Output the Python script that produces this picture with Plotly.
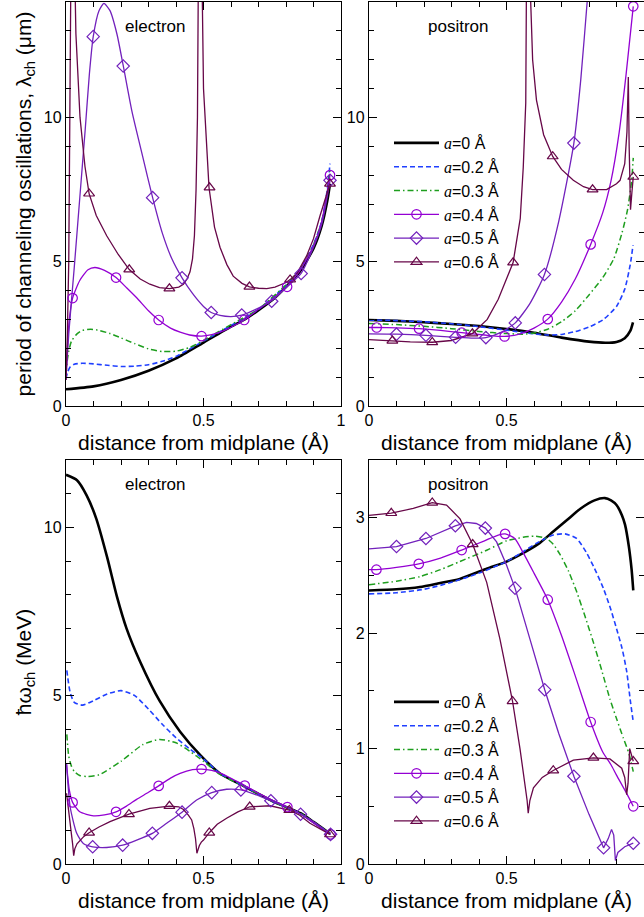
import plotly.graph_objects as go

# ---------------- colours / labels ----------------
series_names = ["a=0 Å", "a=0.2 Å", "a=0.3 Å", "a=0.4 Å", "a=0.5 Å", "a=0.6 Å"]
panel_labels = ["electron", "positron", "electron", "positron"]

# ================= electron, period lambda_ch (um) =================
el_lam_a0_x = [0, 0.1, 0.2, 0.3, 0.4, 0.5, 0.6, 0.65, 0.7, 0.75, 0.8, 0.85, 0.9, 0.93, 0.95, 0.96]
el_lam_a0_y = [0.58, 0.68, 0.9, 1.22, 1.65, 2.2, 2.75, 3.0, 3.32, 3.67, 4.13, 4.65, 5.46, 6.25, 7.1, 7.7]
el_lam_a02_x = [0, 0.005, 0.015, 0.03, 0.06, 0.1, 0.15, 0.2, 0.25, 0.3, 0.35, 0.4, 0.5, 0.6, 0.7, 0.8, 0.85, 0.9, 0.93, 0.95, 0.96]
el_lam_a02_y = [0.95, 1.15, 1.35, 1.45, 1.48, 1.46, 1.41, 1.37, 1.38, 1.43, 1.55, 1.72, 2.25, 2.79, 3.35, 4.18, 4.72, 5.6, 6.4, 7.5, 8.4]
el_lam_a03_x = [0, 0.005, 0.01, 0.02, 0.04, 0.06, 0.09, 0.12, 0.16, 0.2, 0.25, 0.3, 0.35, 0.4, 0.45, 0.5, 0.55, 0.6, 0.7, 0.8, 0.85, 0.9, 0.93, 0.95, 0.96]
el_lam_a03_y = [1.1, 1.6, 1.9, 2.25, 2.5, 2.62, 2.66, 2.62, 2.51, 2.36, 2.16, 1.98, 1.89, 1.9, 2.03, 2.27, 2.55, 2.82, 3.36, 4.2, 4.72, 5.58, 6.4, 7.4, 8.2]
el_lam_a04_x = [0, 0.005, 0.012, 0.024, 0.05, 0.08, 0.105, 0.14, 0.182, 0.22, 0.257, 0.3, 0.337, 0.38, 0.415, 0.45, 0.493, 0.53, 0.572, 0.61, 0.648, 0.7, 0.75, 0.804, 0.85, 0.9, 0.93, 0.96]
el_lam_a04_y = [0.9, 2.0, 3.0, 3.74, 4.35, 4.72, 4.8, 4.7, 4.45, 4.1, 3.75, 3.3, 2.98, 2.7, 2.56, 2.46, 2.42, 2.47, 2.6, 2.78, 2.98, 3.35, 3.7, 4.15, 4.68, 5.55, 6.4, 8.0]
el_lam_a04_mx = [0.024, 0.182, 0.337, 0.493, 0.648, 0.804, 0.96]
el_lam_a04_my = [3.74, 4.45, 2.98, 2.42, 2.98, 4.13, 8.0]
el_lam_a05_x = [0, 0.01, 0.03, 0.05, 0.07, 0.085, 0.099, 0.12, 0.138, 0.16, 0.185, 0.208, 0.24, 0.28, 0.315, 0.35, 0.385, 0.422, 0.46, 0.5, 0.528, 0.56, 0.6, 0.639, 0.69, 0.748, 0.8, 0.855, 0.9, 0.93, 0.96]
el_lam_a05_y = [1.0, 2.5, 4.8, 7.2, 9.6, 11.5, 12.8, 13.7, 13.95, 13.7, 12.9, 11.8, 10.2, 8.6, 7.22, 6.0, 5.1, 4.44, 3.9, 3.45, 3.24, 3.14, 3.1, 3.15, 3.35, 3.65, 4.1, 4.6, 5.5, 6.3, 7.8]
el_lam_a05_mx = [0.099, 0.208, 0.315, 0.422, 0.528, 0.639, 0.748, 0.855, 0.96]
el_lam_a05_my = [12.8, 11.78, 7.22, 4.44, 3.24, 3.15, 3.63, 4.59, 7.82]
el_lam_a06_x = [0, 0.005, 0.01, 0.014, 0.017, 0.02, None, 0.026, 0.03, 0.036, 0.051, 0.069, 0.084, 0.11, 0.148, 0.19, 0.23, 0.27, 0.305, 0.34, 0.376, 0.41, 0.427, 0.44, 0.451, 0.46, 0.467, 0.473, 0.478, 0.482, 0.485, None, 0.49, 0.493, 0.5, 0.51, 0.52, 0.54, 0.56, 0.585, 0.608, 0.64, 0.667, 0.7, 0.73, 0.76, 0.778, 0.8, 0.815, 0.84, 0.875, 0.9, 0.924, 0.945, 0.96]
el_lam_a06_y = [0.9, 2.5, 5.0, 9.0, 14.0, 30.0, None, 30.0, 16.0, 12.9, 10.0, 8.3, 7.36, 6.6, 5.9, 5.25, 4.73, 4.4, 4.22, 4.1, 4.07, 4.12, 4.22, 4.4, 4.65, 5.1, 5.9, 7.5, 10.0, 16.0, 30.0, None, 30.0, 16.0, 11.0, 9.1, 7.57, 6.2, 5.5, 4.9, 4.5, 4.25, 4.13, 4.08, 4.07, 4.12, 4.19, 4.28, 4.38, 4.6, 5.2, 5.8, 6.6, 7.2, 7.7]
el_lam_a06_mx = [0.084, 0.23, 0.376, 0.522, 0.667, 0.815, 0.96]
el_lam_a06_my = [7.36, 4.73, 4.07, 7.57, 4.13, 4.38, 7.7]

# ================= positron, period lambda_ch (um) =================
po_lam_a0_x = [0, 0.1, 0.2, 0.3, 0.4, 0.5, 0.6, 0.7, 0.8, 0.86, 0.9, 0.93, 0.95, 0.96]
po_lam_a0_y = [2.98, 2.95, 2.9, 2.84, 2.77, 2.67, 2.54, 2.37, 2.23, 2.19, 2.22, 2.35, 2.6, 2.9]
po_lam_a02_x = [0, 0.1, 0.2, 0.3, 0.4, 0.5, 0.6, 0.65, 0.7, 0.75, 0.8, 0.85, 0.9, 0.93, 0.95, 0.96]
po_lam_a02_y = [2.98, 2.96, 2.92, 2.85, 2.75, 2.63, 2.5, 2.46, 2.48, 2.58, 2.74, 2.98, 3.45, 4.05, 4.9, 5.57]
po_lam_a03_x = [0, 0.1, 0.2, 0.3, 0.4, 0.5, 0.56, 0.6, 0.65, 0.7, 0.75, 0.8, 0.85, 0.89, 0.92, 0.94, 0.955, 0.961]
po_lam_a03_y = [2.86, 2.82, 2.76, 2.68, 2.58, 2.51, 2.49, 2.53, 2.66, 2.92, 3.3, 3.85, 4.45, 5.1, 6.0, 6.8, 7.8, 8.6]
po_lam_a04_x = [0, 0.028, 0.1, 0.182, 0.26, 0.337, 0.42, 0.493, 0.55, 0.6, 0.65, 0.7, 0.75, 0.806, 0.85, 0.88, 0.91, 0.935, 0.961]
po_lam_a04_y = [2.72, 2.72, 2.71, 2.68, 2.62, 2.54, 2.46, 2.41, 2.5, 2.7, 3.01, 3.6, 4.4, 5.6, 6.7, 7.8, 9.5, 11.5, 13.85]
po_lam_a04_mx = [0.028, 0.182, 0.337, 0.493, 0.65, 0.806, 0.961]
po_lam_a04_my = [2.72, 2.68, 2.54, 2.41, 3.01, 5.6, 13.85]
po_lam_a05_x = [0, 0.1, 0.207, 0.315, 0.38, 0.425, 0.48, 0.532, 0.585, 0.638, 0.69, 0.745, 0.77, 0.795, 0.81]
po_lam_a05_y = [2.5, 2.49, 2.45, 2.38, 2.35, 2.37, 2.55, 2.88, 3.55, 4.56, 6.4, 9.11, 11.3, 14.2, 16.0]
po_lam_a05_mx = [0.1, 0.207, 0.315, 0.425, 0.532, 0.638, 0.745]
po_lam_a05_my = [2.49, 2.45, 2.38, 2.37, 2.88, 4.56, 9.11]
po_lam_a06_x = [0, 0.085, 0.15, 0.23, 0.3, 0.376, 0.43, 0.47, 0.524, 0.55, 0.561, 0.57, 0.578, 0.582, None, 0.585, 0.588, 0.595, 0.609, 0.635, 0.668, 0.7, 0.743, 0.78, 0.813, 0.864, 0.9, 0.913, 0.93, 0.938, 0.943, 0.946, 0.951, 0.956, 0.961]
po_lam_a06_y = [2.3, 2.26, 2.22, 2.21, 2.27, 2.51, 3.0, 3.7, 4.97, 6.5, 8.28, 10.5, 14.0, 30.0, None, 30.0, 14.0, 12.0, 10.6, 9.4, 8.65, 8.2, 7.82, 7.6, 7.5, 7.5, 7.7, 7.82, 8.4, 9.5, 11.4, 9.0, 6.8, 7.4, 7.94]
po_lam_a06_mx = [0.085, 0.23, 0.376, 0.524, 0.668, 0.813, 0.961]
po_lam_a06_my = [2.26, 2.21, 2.51, 4.97, 8.65, 7.5, 7.94]

# ================= electron, energy hbar*omega_ch (MeV) =================
el_om_a0_x = [0, 0.04, 0.075, 0.11, 0.15, 0.185, 0.22, 0.27, 0.34, 0.415, 0.49, 0.56, 0.65, 0.75, 0.805, 0.855, 0.9, 0.96]
el_om_a0_y = [11.56, 11.4, 10.95, 10.26, 9.1, 7.95, 7.0, 6.0, 4.85, 3.93, 3.22, 2.69, 2.3, 1.87, 1.68, 1.5, 1.25, 0.9]
el_om_a02_x = [0.003, 0.015, 0.03, 0.06, 0.1, 0.15, 0.2, 0.25, 0.3, 0.35, 0.4, 0.45, 0.5, 0.56, 0.65, 0.75, 0.805, 0.855, 0.9, 0.96]
el_om_a02_y = [5.75, 5.1, 4.8, 4.72, 4.85, 5.05, 5.15, 5.0, 4.6, 4.15, 3.75, 3.42, 3.12, 2.69, 2.3, 1.86, 1.67, 1.49, 1.24, 0.9]
el_om_a03_x = [0.003, 0.01, 0.02, 0.03, 0.05, 0.075, 0.12, 0.2, 0.28, 0.34, 0.4, 0.45, 0.5, 0.56, 0.65, 0.75, 0.805, 0.855, 0.9, 0.96]
el_om_a03_y = [3.85, 3.2, 2.9, 2.75, 2.63, 2.6, 2.65, 3.05, 3.55, 3.7, 3.6, 3.35, 3.05, 2.66, 2.3, 1.86, 1.67, 1.49, 1.24, 0.9]
el_om_a04_x = [0.002, 0.012, 0.024, 0.05, 0.1, 0.14, 0.182, 0.22, 0.257, 0.3, 0.337, 0.38, 0.415, 0.46, 0.493, 0.53, 0.572, 0.61, 0.65, 0.7, 0.75, 0.805, 0.85, 0.9, 0.962]
el_om_a04_y = [2.95, 2.2, 1.83, 1.55, 1.43, 1.46, 1.55, 1.72, 1.92, 2.13, 2.32, 2.55, 2.69, 2.8, 2.82, 2.78, 2.66, 2.5, 2.33, 2.1, 1.9, 1.69, 1.5, 1.22, 0.88]
el_om_a04_mx = [0.024, 0.182, 0.337, 0.493, 0.65, 0.805, 0.962]
el_om_a04_my = [1.83, 1.55, 2.32, 2.82, 2.33, 1.69, 0.88]
el_om_a05_x = [0.002, 0.015, 0.039, 0.063, 0.097, 0.148, 0.206, 0.257, 0.314, 0.366, 0.422, 0.475, 0.53, 0.584, 0.636, 0.693, 0.745, 0.8, 0.853, 0.912, 0.962]
el_om_a05_y = [2.99, 1.7, 0.91, 0.61, 0.51, 0.49, 0.56, 0.71, 0.91, 1.21, 1.54, 1.9, 2.12, 2.22, 2.2, 2.05, 1.88, 1.7, 1.48, 1.19, 0.88]
el_om_a05_mx = [0.097, 0.206, 0.314, 0.422, 0.53, 0.636, 0.745, 0.853, 0.962]
el_om_a05_my = [0.51, 0.56, 0.91, 1.54, 2.12, 2.2, 1.88, 1.48, 0.88]
el_om_a06_x = [0.002, 0.01, 0.018, 0.024, 0.028, 0.032, 0.04, 0.051, 0.065, 0.084, 0.12, 0.16, 0.229, 0.305, 0.376, 0.41, 0.427, 0.445, 0.457, 0.465, 0.471, 0.476, 0.48, 0.485, 0.492, 0.5, 0.521, 0.55, 0.584, 0.625, 0.668, 0.742, 0.812, 0.85, 0.887, 0.92, 0.96]
el_om_a06_y = [2.1, 1.6, 1.05, 0.6, 0.25, 0.45, 0.6, 0.71, 0.82, 0.93, 1.1, 1.26, 1.48, 1.65, 1.72, 1.7, 1.62, 1.45, 1.31, 1.05, 0.75, 0.32, 0.42, 0.55, 0.65, 0.71, 0.93, 1.18, 1.36, 1.55, 1.7, 1.73, 1.6, 1.45, 1.21, 1.05, 0.88]
el_om_a06_mx = [0.084, 0.229, 0.376, 0.521, 0.668, 0.812, 0.96]
el_om_a06_my = [0.93, 1.48, 1.72, 0.93, 1.7, 1.6, 0.88]

# ================= positron, energy hbar*omega_ch (MeV) =================
po_om_a0_x = [0, 0.1, 0.185, 0.25, 0.33, 0.43, 0.5, 0.55, 0.62, 0.67, 0.72, 0.77, 0.82, 0.858, 0.88, 0.9, 0.92, 0.931, 0.945, 0.955, 0.961]
po_om_a0_y = [2.37, 2.38, 2.4, 2.43, 2.47, 2.56, 2.62, 2.68, 2.78, 2.88, 2.98, 3.08, 3.15, 3.17, 3.15, 3.11, 3.02, 2.94, 2.75, 2.55, 2.37]
po_om_a02_x = [0, 0.1, 0.2, 0.3, 0.4, 0.5, 0.55, 0.61, 0.67, 0.713, 0.755, 0.79, 0.82, 0.852, 0.88, 0.9, 0.92, 0.937, 0.95, 0.961]
po_om_a02_y = [2.34, 2.35, 2.38, 2.44, 2.52, 2.62, 2.69, 2.78, 2.85, 2.86, 2.82, 2.7, 2.56, 2.39, 2.2, 2.04, 1.87, 1.67, 1.42, 1.23]
po_om_a03_x = [0, 0.1, 0.185, 0.26, 0.33, 0.43, 0.5, 0.56, 0.6, 0.646, 0.67, 0.695, 0.725, 0.755, 0.785, 0.816, 0.846, 0.876, 0.9, 0.925, 0.945, 0.961]
po_om_a03_y = [2.42, 2.45, 2.49, 2.55, 2.62, 2.72, 2.8, 2.83, 2.84, 2.82, 2.77, 2.68, 2.54, 2.36, 2.15, 1.92, 1.68, 1.43, 1.26, 1.09, 0.96, 0.8]
po_om_a04_x = [0, 0.027, 0.1, 0.181, 0.26, 0.337, 0.42, 0.47, 0.495, 0.53, 0.56, 0.6, 0.65, 0.7, 0.75, 0.806, 0.85, 0.88, 0.9, 0.935, 0.961]
po_om_a04_y = [2.55, 2.55, 2.57, 2.6, 2.65, 2.72, 2.8, 2.85, 2.86, 2.82, 2.7, 2.52, 2.29, 1.98, 1.63, 1.23, 0.97, 0.86, 0.77, 0.62, 0.5]
po_om_a04_mx = [0.027, 0.181, 0.337, 0.495, 0.65, 0.806, 0.961]
po_om_a04_my = [2.55, 2.6, 2.72, 2.86, 2.29, 1.23, 0.5]
po_om_a05_x = [0, 0.1, 0.207, 0.314, 0.355, 0.39, 0.423, 0.464, 0.5, 0.531, 0.585, 0.639, 0.69, 0.745, 0.8, 0.853, 0.87, 0.882, 0.89, 0.896, 0.905, 0.93, 0.961]
po_om_a05_y = [2.73, 2.75, 2.82, 2.93, 2.96, 2.95, 2.91, 2.79, 2.59, 2.39, 1.95, 1.51, 1.13, 0.76, 0.43, 0.14, 0.22, 0.3, 0.25, 0.03, 0.1, 0.15, 0.18]
po_om_a05_mx = [0.1, 0.207, 0.314, 0.423, 0.531, 0.639, 0.745, 0.853, 0.961]
po_om_a05_my = [2.75, 2.82, 2.93, 2.91, 2.39, 1.51, 0.76, 0.14, 0.18]
po_om_a06_x = [0, 0.081, 0.161, 0.23, 0.282, 0.331, 0.377, 0.428, 0.476, 0.522, 0.549, 0.567, 0.575, 0.579, 0.585, 0.598, 0.63, 0.67, 0.743, 0.816, 0.876, 0.919, 0.93, 0.937, 0.942, 0.948, 0.953, 0.961]
po_om_a06_y = [3.02, 3.04, 3.08, 3.13, 3.11, 2.99, 2.77, 2.44, 1.95, 1.41, 1.0, 0.71, 0.55, 0.44, 0.55, 0.66, 0.75, 0.81, 0.9, 0.92, 0.91, 0.83, 0.75, 0.6, 0.7, 1.0, 0.95, 0.89]
po_om_a06_mx = [0.081, 0.23, 0.377, 0.522, 0.67, 0.816, 0.961]
po_om_a06_my = [3.04, 3.13, 2.77, 1.41, 0.81, 0.92, 0.89]

# ---------------- styles ----------------
COLORS = ["#000000", "#2040ff", "#1e9e1e", "#9400d3", "#7221bc", "#670748"]
WIDTHS = [2.6, 1.6, 1.5, 1.3, 1.3, 1.3]
DASHES = ["solid", "5px,3px", "6px,3px,1.5px,3px", "solid", "solid", "solid"]
SYMBOLS = [None, None, None, "circle-open", "diamond-open", "triangle-up-open"]
FONT = "Liberation Sans, Arial, sans-serif"

panels = [
    ("x", "y",
     [(el_lam_a0_x, el_lam_a0_y), (el_lam_a02_x, el_lam_a02_y), (el_lam_a03_x, el_lam_a03_y),
      (el_lam_a04_x, el_lam_a04_y), (el_lam_a05_x, el_lam_a05_y), (el_lam_a06_x, el_lam_a06_y)],
     {3: (el_lam_a04_mx, el_lam_a04_my), 4: (el_lam_a05_mx, el_lam_a05_my), 5: (el_lam_a06_mx, el_lam_a06_my)},
     ["spline", "spline", "spline", "spline", "spline", "linear"]),
    ("x2", "y2",
     [(po_lam_a0_x, po_lam_a0_y), (po_lam_a02_x, po_lam_a02_y), (po_lam_a03_x, po_lam_a03_y),
      (po_lam_a04_x, po_lam_a04_y), (po_lam_a05_x, po_lam_a05_y), (po_lam_a06_x, po_lam_a06_y)],
     {3: (po_lam_a04_mx, po_lam_a04_my), 4: (po_lam_a05_mx, po_lam_a05_my), 5: (po_lam_a06_mx, po_lam_a06_my)},
     ["spline", "spline", "spline", "spline", "spline", "linear"]),
    ("x3", "y3",
     [(el_om_a0_x, el_om_a0_y), (el_om_a02_x, el_om_a02_y), (el_om_a03_x, el_om_a03_y),
      (el_om_a04_x, el_om_a04_y), (el_om_a05_x, el_om_a05_y), (el_om_a06_x, el_om_a06_y)],
     {3: (el_om_a04_mx, el_om_a04_my), 4: (el_om_a05_mx, el_om_a05_my), 5: (el_om_a06_mx, el_om_a06_my)},
     ["spline", "spline", "spline", "spline", "spline", "linear"]),
    ("x4", "y4",
     [(po_om_a0_x, po_om_a0_y), (po_om_a02_x, po_om_a02_y), (po_om_a03_x, po_om_a03_y),
      (po_om_a04_x, po_om_a04_y), (po_om_a05_x, po_om_a05_y), (po_om_a06_x, po_om_a06_y)],
     {3: (po_om_a04_mx, po_om_a04_my), 4: (po_om_a05_mx, po_om_a05_my), 5: (po_om_a06_mx, po_om_a06_my)},
     ["spline", "spline", "spline", "spline", "linear", "linear"]),
]

fig = go.Figure()
for pi, (xa, ya, curves, marks, shapes_) in enumerate(panels):
    for i, (cx, cy) in enumerate(curves):
        ln = dict(color=COLORS[i], width=WIDTHS[i], dash=DASHES[i], shape=shapes_[i])
        if shapes_[i] == "spline":
            ln["smoothing"] = 0.6
        fig.add_trace(go.Scatter(x=cx, y=cy, xaxis=xa, yaxis=ya, mode="lines", line=ln,
                                 showlegend=False, hoverinfo="skip"))
    for i, (mx, my) in marks.items():
        fig.add_trace(go.Scatter(x=mx, y=my, xaxis=xa, yaxis=ya, mode="markers",
                                 marker=dict(symbol=SYMBOLS[i], size=9.5, color=COLORS[i],
                                             line=dict(width=1.2, color=COLORS[i])),
                                 showlegend=False, hoverinfo="skip", cliponaxis=False))

# legend entries (no data, only for the two legends)
def legend_label(name):
    return '<span style="font-family:Liberation Serif"><i>a</i></span>' + name[1:]

for leg, xa, ya in (("legend", "x2", "y2"), ("legend2", "x4", "y4")):
    for i, nm in enumerate(series_names):
        mode = "lines+markers" if SYMBOLS[i] else "lines"
        kw = dict(marker=dict(symbol=SYMBOLS[i], size=9.5, color=COLORS[i],
                              line=dict(width=1.2, color=COLORS[i]))) if SYMBOLS[i] else {}
        fig.add_trace(go.Scatter(x=[None], y=[None], xaxis=xa, yaxis=ya, mode=mode,
                                 name=legend_label(nm), legend=leg,
                                 line=dict(color=COLORS[i], width=WIDTHS[i], dash=DASHES[i]), **kw))

W, H = 644, 917
def xd(a, b):
    return [a / W, b / W]
def yd(top, bot):
    return [1 - bot / H, 1 - top / H]

axis_common = dict(showline=True, linecolor="black", linewidth=1.3, mirror="allticks",
                   ticks="inside", ticklen=8, tickwidth=1.2, tickcolor="black",
                   showgrid=False, zeroline=False, automargin=False,
                   tickfont=dict(family=FONT, size=16, color="black"),
                   title_font=dict(family=FONT, size=21, color="black"))
xtitle = "distance from midplane (Å)"

layout_axes = {}
dom_x = [xd(66, 341), xd(369, 644)]
dom_y = [yd(2, 406), yd(460, 864)]
yranges = [[0, 14], [0, 14], [0, 12], [0, 3.5]]
ydt = [5, 5, 5, 1]
yminor = [1, 1, 1, 0.5]
ytitles = {0: "period of channeling oscillations, λ<sub>ch</sub> (μm)", 2: "ħω<sub>ch</sub> (MeV)"}
for k in range(4):
    sx = "" if k == 0 else str(k + 1)
    col, row = k % 2, k // 2
    layout_axes["xaxis" + sx] = dict(axis_common, domain=dom_x[col], range=[0, 1], dtick=0.5, tick0=0,
                                     anchor="y" + sx,
                                     minor=dict(dtick=0.1, ticks="inside", ticklen=5, tickcolor="black", tickwidth=1.1),
                                     title=dict(text=xtitle, standoff=6))
    yax = dict(axis_common, domain=dom_y[row], range=yranges[k], dtick=ydt[k], tick0=0,
               anchor="x" + sx,
               minor=dict(dtick=yminor[k], ticks="inside", ticklen=5, tickcolor="black", tickwidth=1.1))
    if k in ytitles:
        yax["title"] = dict(text=ytitles[k], standoff=6)
    layout_axes["yaxis" + sx] = yax

annotations = []
lab_pos = [(155, 27), (458, 27), (155, 484), (458, 484)]
for (px, py), txt in zip(lab_pos, panel_labels):
    annotations.append(dict(x=px / W, y=1 - py / H, xref="paper", yref="paper", text=txt,
                            showarrow=False, font=dict(family=FONT, size=17, color="black"),
                            xanchor="center", yanchor="middle"))

legend_style = dict(font=dict(family=FONT, size=16, color="black"), bgcolor="rgba(0,0,0,0)",
                    borderwidth=0, itemwidth=45, tracegroupgap=0, xanchor="left", yanchor="top",
                    itemclick=False, itemdoubleclick=False)

fig.update_layout(
    width=W, height=H, margin=dict(l=0, r=0, t=0, b=0),
    paper_bgcolor="white", plot_bgcolor="white",
    font=dict(family=FONT, color="black"),
    showlegend=True,
    legend=dict(legend_style, x=389 / W, y=1 - 126 / H),
    legend2=dict(legend_style, x=389 / W, y=1 - 685 / H),
    annotations=annotations,
    **layout_axes,
)

fig.write_html("out.html")
